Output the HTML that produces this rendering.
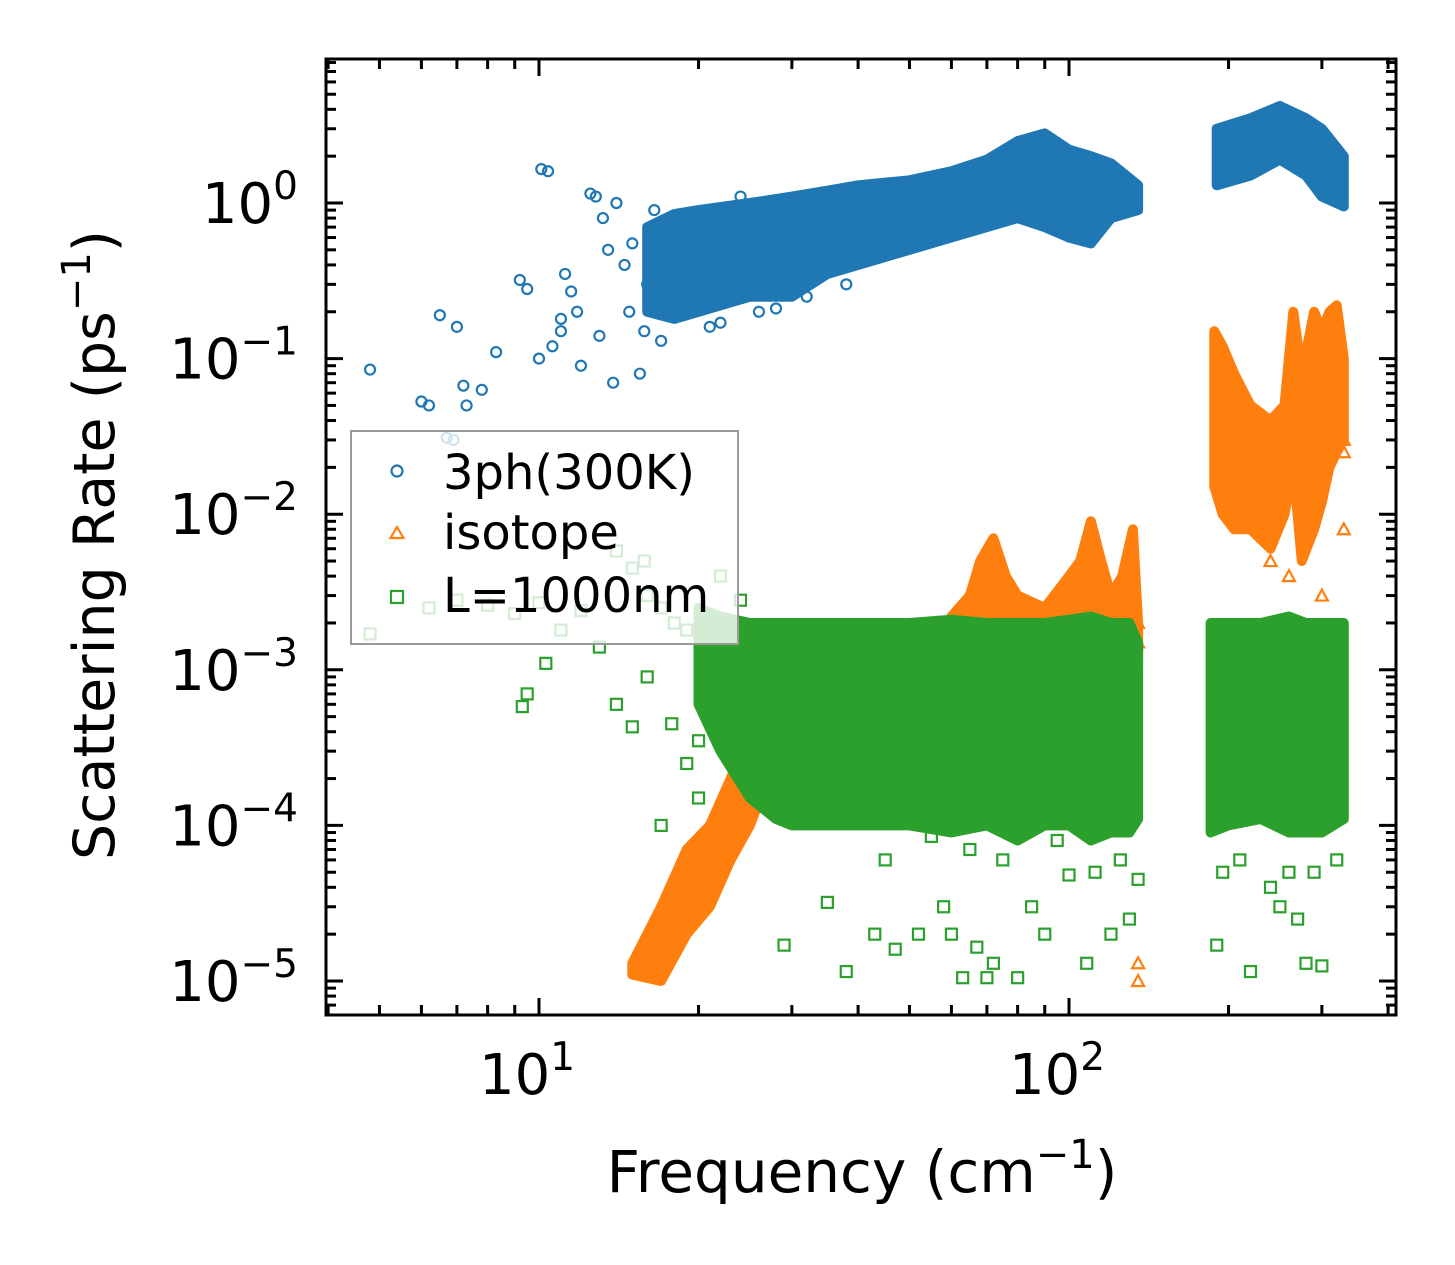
<!DOCTYPE html>
<html><head><meta charset="utf-8">
<style>
html,body{margin:0;padding:0;background:#fff;}
svg{display:block;font-family:"DejaVu Sans","Liberation Sans",sans-serif;}
</style></head>
<body>
<svg id="chart" width="1455" height="1265" viewBox="0 0 1455 1265" xmlns="http://www.w3.org/2000/svg">
<rect width="1455" height="1265" fill="#fff"/>
<defs><clipPath id="pc"><rect x="326" y="59" width="1070" height="956"/></clipPath></defs>
<g id="plot" clip-path="url(#pc)"></g>
<g id="axes"></g>
<g id="legend">
  <rect x="351" y="431" width="387" height="213" fill="#fff" fill-opacity="0.8" stroke="#999" stroke-width="2"/>
  <circle cx="397" cy="471" r="5.5" fill="none" stroke="#1f77b4" stroke-width="2.2"/>
  <text x="443" y="489" font-size="48">3ph(300K)</text>
  <path d="M397,527 L403.5,538 L390.5,538 Z" fill="none" stroke="#ff7f0e" stroke-width="2.2"/>
  <text x="443" y="549" font-size="48">isotope</text>
  <rect x="391" y="591" width="12" height="12" fill="none" stroke="#2ca02c" stroke-width="2.2"/>
  <text x="443" y="612" font-size="48">L=1000nm</text>
</g>
<text x="862" y="1192" font-size="58" text-anchor="middle">Frequency (cm<tspan dy="-24" font-size="40">−1</tspan><tspan dy="24">)</tspan></text>
<text transform="translate(114,545) rotate(-90)" font-size="57" text-anchor="middle">Scattering Rate (ps<tspan dy="-24" font-size="40">−1</tspan><tspan dy="24">)</tspan></text>
</svg>
<script>
// ---- data ----
const blueBandFreq = [16,18,20,25,30,35,40,50,60,70,80,90,100,110,120,135];
const blueBandLo   = [0.2,0.18,0.2,0.25,0.25,0.35,0.4,0.5,0.6,0.7,0.8,0.7,0.6,0.55,0.8,0.9];
const blueBandHi   = [0.7,0.85,0.9,1.0,1.1,1.2,1.3,1.4,1.6,1.9,2.5,2.8,2.2,2.0,1.8,1.3];
const blueBand2Freq = [190,220,250,280,300,330];
const blueBand2Lo   = [1.3,1.5,1.9,1.5,1.1,0.95];
const blueBand2Hi   = [3.0,3.5,4.2,3.5,3.0,2.0];
const bluePtsX = [4.8,6,6.2,6.5,6.7,7,7.2,7.3,7.8,8.3,9.2,9.5,10,10.1,10.4,10.6,11,11.2,11.5,11.8,12.5,12.8,13.2,13.5,13.8,14,14.5,15,15.5,16,16.5,17,17.5,18,19,11,12,13,14.8,15.8,17,6.9,21,22,24,26,28,32,38];
const bluePtsY = [0.085,0.053,0.05,0.19,0.031,0.16,0.067,0.05,0.063,0.11,0.32,0.28,0.1,1.65,1.6,0.12,0.15,0.35,0.27,0.2,1.15,1.1,0.8,0.5,0.07,1.0,0.4,0.55,0.08,0.3,0.9,0.2,0.6,0.3,0.25,0.18,0.09,0.14,0.2,0.15,0.13,0.03,0.16,0.17,1.1,0.2,0.21,0.25,0.3];

const orgBandFreq = [15,17,19,21,23,25,27];
const orgBandLo   = [1.1e-5,1.0e-5,2e-5,3e-5,6e-5,1e-4,2e-4];
const orgBandHi   = [1.3e-5,3e-5,7e-5,1e-4,2e-4,4e-4,6e-4];
const orgMidFreq = [50,55,60,65,68,72,76,80,90,100,105,110,115,120,126,132,135];
const orgMidLo   = [1e-3,1e-3,1e-3,1e-3,1e-3,1e-3,1e-3,1e-3,1e-3,1e-3,1e-3,1e-3,1e-3,1e-3,1e-3,1e-3,1e-3];
const orgMidHi   = [1.2e-3,1.5e-3,2.2e-3,3e-3,5e-3,7e-3,4e-3,3e-3,2.5e-3,4e-3,5e-3,9e-3,5e-3,3e-3,4e-3,8e-3,2e-3];
const orgHiFreq = [188,195,205,220,240,255,265,275,290,300,310,320,330];
const orgHiLo   = [0.015,0.01,0.008,0.008,0.006,0.01,0.02,0.005,0.008,0.012,0.02,0.025,0.03];
const orgHiHi   = [0.15,0.12,0.08,0.05,0.04,0.05,0.2,0.08,0.2,0.15,0.2,0.22,0.1];
const orgPtsX = [135,135,135,135,330,330,330,300,260,240];
const orgPtsY = [1.3e-5,1e-5,2e-3,1.5e-3,2.5e-2,3e-2,8e-3,3e-3,4e-3,5e-3];

const grnBandFreq = [20,22,25,28,30,40,50,60,70,80,90,100,110,120,130,135];
const grnBandLo   = [6e-4,3e-4,1.5e-4,1.1e-4,1.0e-4,1.0e-4,1.0e-4,9e-5,1.0e-4,8e-5,1.0e-4,1.0e-4,8e-5,9e-5,9e-5,1.1e-4];
const grnBandHi   = [2.5e-3,2.2e-3,2e-3,2e-3,2e-3,2e-3,2e-3,2.1e-3,2e-3,2e-3,2e-3,2.1e-3,2.2e-3,2e-3,2e-3,1.5e-3];
const grnBand2Freq = [185,200,230,260,280,300,330];
const grnBand2Lo   = [9e-5,1e-4,1.1e-4,9e-5,9e-5,9e-5,1.1e-4];
const grnBand2Hi   = [2e-3,2e-3,2e-3,2.2e-3,2e-3,2e-3,2e-3];
const grnPtsX = [9.3,9.5,10.3,14,15,16,17,17.8,19,20,29,35,38,43,47,52,58,60,63,67,70,72,80,85,90,100,108,120,130,135,190,220,250,280,300,270,4.8,6.2,7,8,9,10,11,12,13,14,15,16,17,18,19,15.8,20,22,24,45,55,65,75,95,112,125,195,210,240,260,290,320];
const grnPtsY = [5.8e-4,7e-4,1.1e-3,6e-4,4.3e-4,9e-4,1e-4,4.5e-4,2.5e-4,1.5e-4,1.7e-5,3.2e-5,1.15e-5,2e-5,1.6e-5,2e-5,3e-5,2e-5,1.05e-5,1.65e-5,1.05e-5,1.3e-5,1.05e-5,3e-5,2e-5,4.8e-5,1.3e-5,2e-5,2.5e-5,4.5e-5,1.7e-5,1.15e-5,3e-5,1.3e-5,1.25e-5,2.5e-5,1.7e-3,2.5e-3,2.8e-3,2.6e-3,2.3e-3,2.7e-3,1.8e-3,2.4e-3,1.4e-3,5.8e-3,4.5e-3,3e-3,2.5e-3,2e-3,1.8e-3,5e-3,3.5e-4,4e-3,2.8e-3,6e-5,8.5e-5,7e-5,6e-5,8e-5,5e-5,6e-5,5e-5,6e-5,4e-5,5e-5,5e-5,6e-5];

const xTickVals = [10,100];
const xTickLabels = ["1","2"];
const yTickVals = [1,0.1,0.01,0.001,1e-4,1e-5];
const yTickLabels = ["0","−1","−2","−3","−4","−5"];

// ---- axes ----
const X0=326, X1=1396, Y0=59, Y1=1015;
const xDec = 530, x10 = 539;
const yDec = 155.6, y1 = 203;
function sx(f){ return x10 + (Math.log10(f)-1)*xDec; }
function sy(v){ return y1 - Math.log10(v)*yDec; }
const NS="http://www.w3.org/2000/svg";
function mk(tag, attrs, parent){ const e=document.createElementNS(NS,tag); for(const k in attrs) e.setAttribute(k,attrs[k]); parent.appendChild(e); return e; }
const plot=document.getElementById('plot'), axes=document.getElementById('axes');

function band(fr, lo, hi, color, name){
  let pts=[];
  for(let i=0;i<fr.length;i++) pts.push(sx(fr[i]).toFixed(1)+','+sy(hi[i]).toFixed(1));
  for(let i=fr.length-1;i>=0;i--) pts.push(sx(fr[i]).toFixed(1)+','+sy(lo[i]).toFixed(1));
  const p=mk('polygon',{points:pts.join(' '),fill:color,stroke:color,'stroke-width':10,'stroke-linejoin':'round'},plot);
  
  
}
function pts(xs, ys, kind, color, name){
  for(let i=0;i<xs.length;i++){
    const x=sx(xs[i]), y=sy(ys[i]); let e;
    if(kind==='c') e=mk('circle',{cx:x,cy:y,r:5,fill:'none',stroke:color,'stroke-width':2.2},plot);
    else if(kind==='t') e=mk('path',{d:`M${x},${y-6} L${x+6},${y+5} L${x-6},${y+5} Z`,fill:'none',stroke:color,'stroke-width':2.2},plot);
    else e=mk('rect',{x:x-5.5,y:y-5.5,width:11,height:11,fill:'none',stroke:color,'stroke-width':2.2},plot);
    
    
  }
}
const B='#1f77b4', O='#ff7f0e', G='#2ca02c';
band(blueBandFreq,blueBandLo,blueBandHi,B,'3ph-cloud-low');
band(blueBand2Freq,blueBand2Lo,blueBand2Hi,B,'3ph-cloud-high');
pts(bluePtsX,bluePtsY,'c',B,'3ph-point');
band(orgBandFreq,orgBandLo,orgBandHi,O,'isotope-cloud-low');
band(orgMidFreq,orgMidLo,orgMidHi,O,'isotope-cloud-mid');
band(orgHiFreq,orgHiLo,orgHiHi,O,'isotope-cloud-high');
pts(orgPtsX,orgPtsY,'t',O,'isotope-point');
band(grnBandFreq,grnBandLo,grnBandHi,G,'boundary-cloud-low');
band(grnBand2Freq,grnBand2Lo,grnBand2Hi,G,'boundary-cloud-high');
pts(grnPtsX,grnPtsY,'s',G,'boundary-point');

// frame
const fr=mk('rect',{x:X0,y:Y0,width:X1-X0,height:Y1-Y0,fill:'none',stroke:'#000','stroke-width':3},axes);


for(let d=0; d<=2; d++){
  for(let m=1;m<=9;m++){
    const f=m*Math.pow(10,d); const x=sx(f);
    if(x<X0+1||x>X1-1) continue;
    const L = m===1?17:10;
    const t1=mk('line',{x1:x,y1:Y1,x2:x,y2:Y1-L,stroke:'#000','stroke-width':3},axes);
    
    
    const t2=mk('line',{x1:x,y1:Y0,x2:x,y2:Y0+L,stroke:'#000','stroke-width':3},axes);
    
    
  }
}
for(let i=0;i<xTickVals.length;i++){
  const x=sx(xTickVals[i]);
  const t=mk('text',{x:x-12,y:1094,'font-size':56,'text-anchor':'middle'},axes);
  t.textContent='10';
  const s=mk('tspan',{dy:-24,'font-size':39},t); s.textContent=xTickLabels[i];
  
  
}
for(let d=-6; d<=0; d++){
  for(let m=1;m<=9;m++){
    const v=m*Math.pow(10,d); const y=sy(v);
    if(y<Y0+1||y>Y1-1) continue;
    const L = m===1?17:10;
    const t1=mk('line',{x1:X0,y1:y,x2:X0+L,y2:y,stroke:'#000','stroke-width':3},axes);
    
    
    const t2=mk('line',{x1:X1,y1:y,x2:X1-L,y2:y,stroke:'#000','stroke-width':3},axes);
    
    
  }
}
for(let i=0;i<yTickVals.length;i++){
  const y=sy(yTickVals[i]);
  const t=mk('text',{x:298,y:y+20,'font-size':56,'text-anchor':'end'},axes);
  t.textContent='10';
  const s=mk('tspan',{dy:-24,'font-size':39},t); s.textContent=yTickLabels[i];
  
  
}
</script>
</body></html>
